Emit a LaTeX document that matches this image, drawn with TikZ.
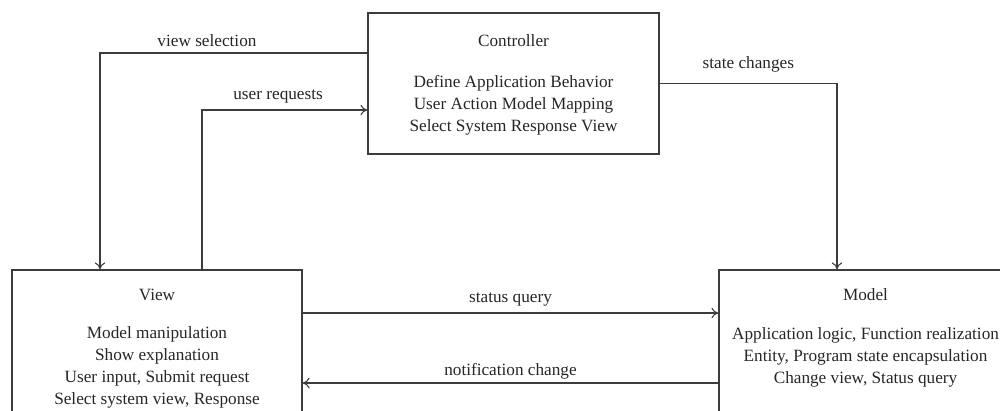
\documentclass[tikz,border=0pt]{standalone}
\usepackage{fontspec}
\setmainfont{Liberation Serif}
\usepackage{xcolor}
\usepackage{tikz}
\usetikzlibrary{arrows.meta,positioning,calc}
\definecolor{linegray}{HTML}{3C3C3C}
\definecolor{inkgray}{HTML}{262626}
\tikzset{
  box/.style={draw=linegray,line width=0.7pt,minimum height=3.2cm},
  boxtext/.style={align=center,inner sep=0pt,text=inkgray,font=\fontsize{9.8}{12.5}\selectfont},
  lbl/.style={above,text=inkgray,font=\fontsize{9.8}{12.5}\selectfont},
  arr/.style={draw=linegray,line width=0.6pt,-{To[length=4pt,width=6pt]}}
}
\begin{document}
\begin{tikzpicture}[x=0.02cm,y=-0.02cm]
\useasboundingbox (0,0) rectangle (1000,410);
\clip (0,0) rectangle (1000,410);
\node[box,minimum width=5.82cm,minimum height=2.82cm] (ctrl) at (513.5,83.5) {};
\node[box,minimum width=5.8cm] (view) at (157,350) {};
\node[box,minimum width=5.86cm] (model) at (865.5,350) {};
\node[boxtext,below=0.44cm of ctrl.north] (ctrltext) {Controller\\[10.5pt]
  Define Application Behavior\\ User Action Model Mapping\\ Select System Response View};
\node[boxtext,below=0.38cm of view.north] (viewtext) {View\\[9.5pt]
  Model manipulation\\ Show explanation\\ User input, Submit request\\ Select system view, Response};
\node[boxtext,below=0.38cm of model.north] (modeltext) {Model\\[9.5pt]
  Application logic, Function realization\\ Entity, Program state encapsulation\\ Change view, Status query};
\draw[arr] (ctrl.west |- 0,53) -| (view.north -| 100,0) node[lbl,pos=0.3] {view selection};
\draw[arr] (view.north -| 202,0) |- (ctrl.west |- 0,110) node[lbl,pos=0.73] {user requests};
\draw[arr] (ctrl.east) -| (model.north -| 837,0) node[lbl,pos=0.25,yshift=3pt] {state changes};
\draw[arr] (view.east |- 0,313) -- (model.west |- 0,313) node[lbl,midway] {status query};
\draw[arr] (model.west |- 0,383) -- (view.east |- 0,383) node[lbl,midway,yshift=-1.5pt] {notification change};
\end{tikzpicture}
\end{document}
